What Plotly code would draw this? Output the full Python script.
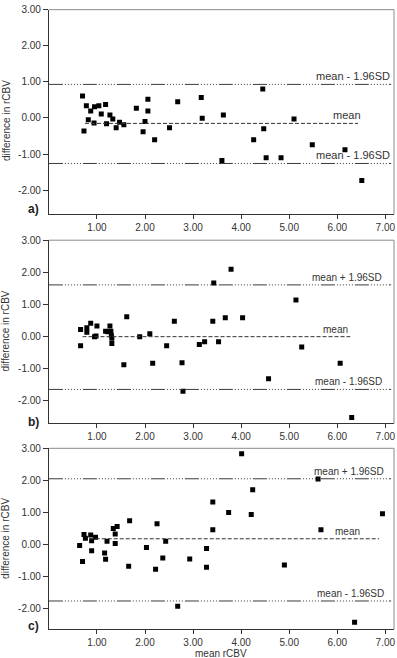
import plotly.graph_objects as go

# ---------------- data ----------------
# panel a
xa = [0.70, 0.73, 0.78, 0.82, 0.87, 0.94, 0.95, 1.04, 1.09, 1.18, 1.20, 1.27, 1.33,
      1.40, 1.47, 1.56, 1.82, 1.96, 2.00, 2.06, 2.06, 2.20, 2.51, 2.68,
      3.17, 3.19, 3.63, 3.60, 4.45, 4.47, 4.26, 4.52, 4.83, 5.10, 5.48, 6.16, 6.51]
ya = [0.61, -0.36, 0.34, -0.05, 0.19, -0.14, 0.31, 0.34, 0.11, 0.37, -0.16, 0.08, -0.03,
      -0.27, -0.12, -0.19, 0.27, -0.38, -0.10, 0.52, 0.19, -0.60, -0.27, 0.45,
      0.57, -0.01, 0.08, -1.18, 0.80, -0.30, -0.60, -1.10, -1.10, -0.03, -0.74, -0.88, -1.73]
# panel b
xb = [0.66, 0.66, 0.79, 0.79, 0.87, 0.95, 0.98, 1.00, 1.18, 1.23, 1.27, 1.29, 1.30,
      1.31, 1.31, 1.56, 1.62, 1.89, 2.10, 2.16, 2.45, 2.61, 2.77, 2.79,
      3.13, 3.24, 3.43, 3.41, 3.53, 3.67, 3.79, 4.03, 4.57, 5.14, 5.26, 6.06, 6.30]
yb = [0.22, -0.28, 0.28, 0.14, 0.42, 0.00, 0.02, 0.33, 0.17, 0.15, 0.33, 0.17, 0.04,
      -0.05, -0.21, -0.87, 0.62, 0.00, 0.09, -0.83, -0.28, 0.48, -0.81, -1.70,
      -0.24, -0.16, 1.67, 0.48, -0.16, 0.59, 2.10, 0.59, -1.31, 1.14, -0.32, -0.83, -2.51]
# panel c
xc = [0.64, 0.70, 0.73, 0.76, 0.87, 0.89, 0.89, 0.97, 1.16, 1.18, 1.21, 1.34, 1.38,
      1.38, 1.42, 1.68, 1.66, 2.03, 2.22, 2.25, 2.37, 2.43, 2.68, 2.93,
      4.01, 3.41, 3.41, 3.28, 3.28, 3.74, 4.24, 4.21, 4.90, 5.60, 5.66, 6.36, 6.94]
yc = [-0.03, -0.53, 0.31, 0.20, 0.30, 0.12, -0.19, 0.23, -0.26, -0.46, 0.10, 0.50, 0.33,
      0.03, 0.56, 0.74, -0.68, -0.09, -0.77, 0.65, -0.42, 0.10, -1.92, -0.45,
      2.83, 1.33, 0.46, -0.12, -0.71, 1.00, 1.71, 0.94, -0.64, 2.04, 0.46, -2.42, 0.96]

panel_x = [xa, xb, xc]
panel_y = [ya, yb, yc]
panel_names = ["a)", "b)", "c)"]
upper_lim = [0.93, 1.61, 2.05]
mean_diff = [-0.15, 0.00, 0.18]
lower_lim = [-1.26, -1.64, -1.76]
mean_line_start = [0.75, 0.70, 0.85]
mean_line_end = [6.43, 6.27, 6.87]
limit_line_end = 7.12
upper_text = ["mean - 1.96SD", "mean + 1.96SD", "mean + 1.96SD"]
mean_text = ["mean", "mean", "mean"]
lower_text = ["mean - 1.96SD", "mean - 1.96SD", "mean - 1.96SD"]

y_tickvals = [3, 2, 1, 0, -1, -2]
y_ticktext = ["3.00", "2.00", "1.00", "0.00", "-1.00", "-2.00"]
x_tickvals = [1, 2, 3, 4, 5, 6, 7]
x_ticktext = ["1.00", "2.00", "3.00", "4.00", "5.00", "6.00", "7.00"]
y_title = "difference in rCBV"
x_title = "mean rCBV"

# ---------------- layout geometry ----------------
W, H = 397, 658
FONT = "Arial, Liberation Sans, sans-serif"
x_dom = [49 / W, 395 / W]
x_rng = [0, 7.18]
pix = [(4.7, 211.0), (237.0, 421.7), (446.7, 629.0)]
y_rngs = [[-2.67, 3.0], [-2.70, 3.0], [-2.64, 3.0]]
label_y_px = [206, 420, 626]
ytitle_y_px = [116, 328, 537]
upper_lab_x = [7.14, 6.97, 7.01]
mean_lab_x = [6.54, 6.27, 6.51]
line_label_size = [11, 10, 10]
LIMIT_DASH = "14px,2px,1px,2px,1px,2px,1px,2px,1px,2px,1px,2px,1px,2px"

fig = go.Figure()
annotations = []
shapes = []
layout = {}

for i in range(3):
    n = "" if i == 0 else str(i + 1)
    xr = "x" + n
    yr = "y" + n
    top, bot = pix[i]
    fig.add_trace(go.Scatter(
        x=panel_x[i], y=panel_y[i], mode="markers", xaxis=xr, yaxis=yr,
        marker=dict(symbol="square", size=5, color="black"),
        showlegend=False, hoverinfo="skip"))
    # limit lines
    for v in (upper_lim[i], lower_lim[i]):
        fig.add_trace(go.Scatter(
            x=[0, limit_line_end], y=[v, v], mode="lines", xaxis=xr, yaxis=yr,
            line=dict(color="#3a3a3a", width=1, dash=LIMIT_DASH),
            showlegend=False, hoverinfo="skip"))
    fig.add_trace(go.Scatter(
        x=[mean_line_start[i], mean_line_end[i]], y=[mean_diff[i], mean_diff[i]],
        mode="lines", xaxis=xr, yaxis=yr,
        line=dict(color="#333333", width=1, dash="4px,2px"),
        showlegend=False, hoverinfo="skip"))

    layout["xaxis" + n] = dict(
        domain=x_dom, range=x_rng, anchor=yr, tickvals=x_tickvals, ticktext=x_ticktext,
        showline=True, linecolor="#333333", linewidth=1, ticks="outside", ticklen=4,
        tickcolor="#333333", showgrid=False, zeroline=False, ticklabeloverflow="allow",
        tickfont=dict(family=FONT, size=10, color="#333333"), fixedrange=True)
    layout["yaxis" + n] = dict(
        domain=[1 - bot / H, 1 - top / H], range=y_rngs[i], anchor=xr,
        tickvals=y_tickvals, ticktext=y_ticktext, ticklabeloverflow="allow",
        showline=True, linecolor="#333333", linewidth=1, ticks="outside", ticklen=5,
        tickcolor="#333333", showgrid=False, zeroline=False,
        tickfont=dict(family=FONT, size=10, color="#333333"), fixedrange=True)

    # grey top / right border
    shapes.append(dict(type="line", xref="paper", yref="paper",
                       x0=x_dom[0], x1=x_dom[1], y0=1 - top / H, y1=1 - top / H,
                       line=dict(color="#8a8a8a", width=1)))
    shapes.append(dict(type="line", xref="paper", yref="paper",
                       x0=x_dom[1], x1=x_dom[1], y0=1 - bot / H, y1=1 - top / H,
                       line=dict(color="#8a8a8a", width=1)))

    # line labels
    for txt, xv, yv in ((upper_text[i], upper_lab_x[i], upper_lim[i]),
                        (mean_text[i], mean_lab_x[i], mean_diff[i]),
                        (lower_text[i], upper_lab_x[i], lower_lim[i])):
        annotations.append(dict(
            text=txt, x=xv, y=yv, xref=xr, yref=yr, xanchor="right", yanchor="bottom",
            showarrow=False, yshift=0,
            font=dict(family=FONT, size=line_label_size[i], color="#333333")))

    # panel letter
    annotations.append(dict(
        text="<b>" + panel_names[i] + "</b>", x=41 / W, y=1 - label_y_px[i] / H,
        xref="paper", yref="paper", xanchor="right", yanchor="middle",
        showarrow=False, font=dict(family=FONT, size=12, color="#222222")))
    # y title
    annotations.append(dict(
        text=y_title, x=6 / W, y=1 - ytitle_y_px[i] / H, xref="paper", yref="paper",
        xanchor="center", yanchor="middle", textangle=-90, showarrow=False,
        font=dict(family=FONT, size=10, color="#333333")))

annotations.append(dict(
    text=x_title, x=222 / W, y=1 - 653 / H, xref="paper", yref="paper",
    xanchor="center", yanchor="middle", showarrow=False,
    font=dict(family=FONT, size=10, color="#333333")))

fig.update_layout(
    width=W, height=H, margin=dict(l=0, r=0, t=0, b=0),
    paper_bgcolor="white", plot_bgcolor="white",
    annotations=annotations, shapes=shapes, **layout)

fig.write_html(
    "out.html", config={"displayModeBar": False},
    post_script="document.body.style.margin='0';document.body.style.padding='0';"
                "document.body.style.overflow='hidden';")
